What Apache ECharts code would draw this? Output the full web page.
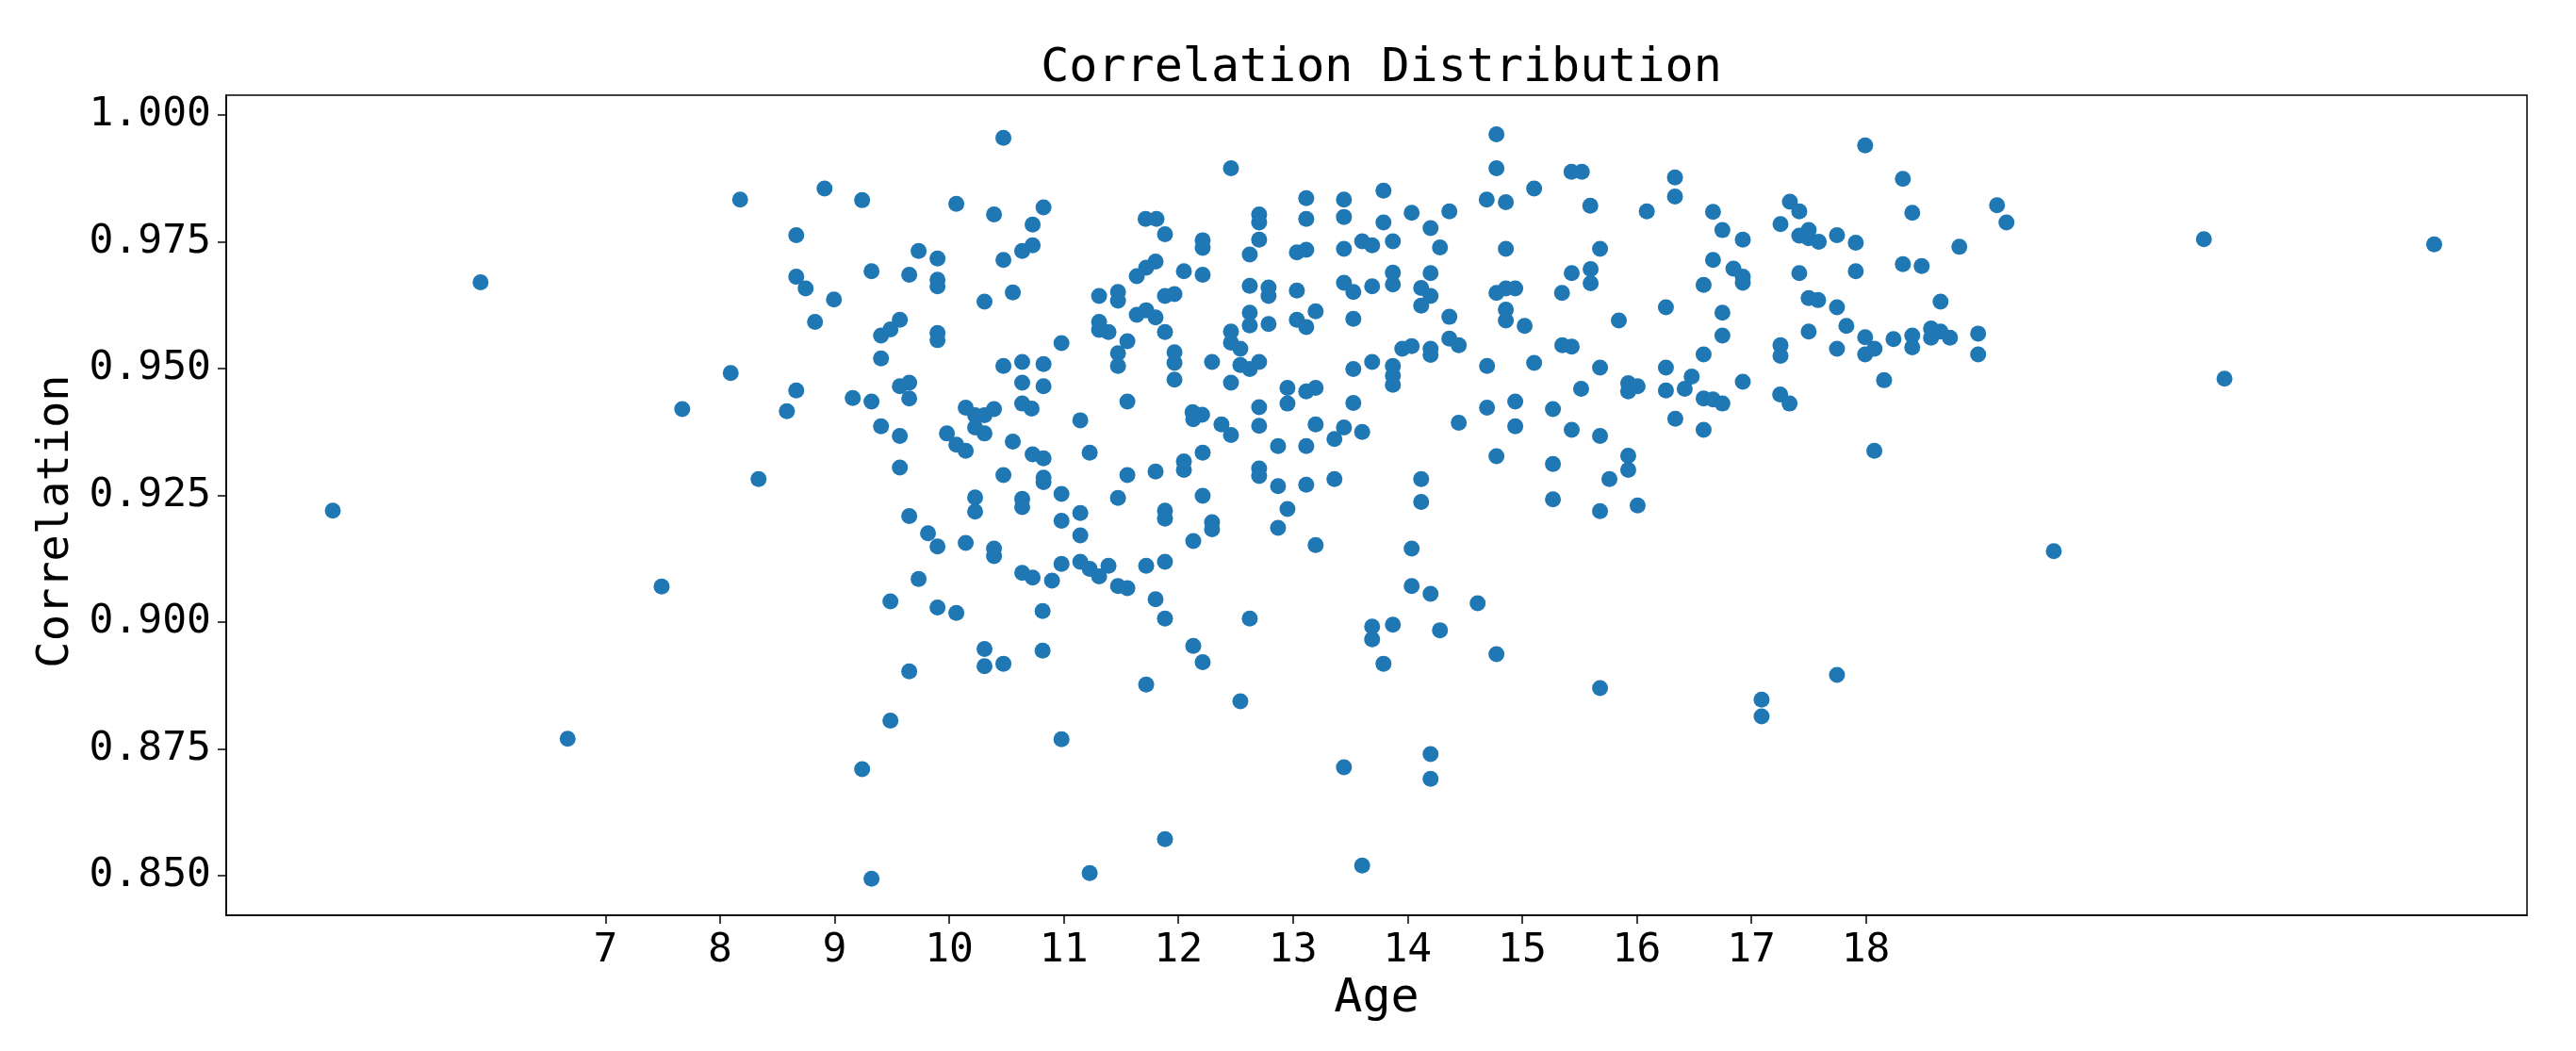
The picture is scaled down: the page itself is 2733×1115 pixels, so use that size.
<!DOCTYPE html>
<html><head><meta charset="utf-8">
<script src="https://cdn.jsdelivr.net/npm/echarts@6/dist/echarts.min.js"></script>
<style>html,body{margin:0;padding:0;background:#fff}#c{width:2733px;height:1115px}</style>
</head><body><div id="c"></div>
<script>
const chartTitle = 'Correlation Distribution';
const xName = 'Age';
const yName = 'Correlation';
const xTicks = [7, 8, 9, 10, 11, 12, 13, 14, 15, 16, 17, 18];
const yTicks = [0.85, 0.875, 0.9, 0.925, 0.95, 0.975, 1.0];

const ages = [
4.62,5.91,6.67,7.49,7.67,19.64,20.95,21.13,22.96,
10.473,8.912,8.175,9.240,10.062,10.391,10.728,8.665,9.733,9.898,10.637,10.728,10.473,9.322,8.665,8.747,9.651,9.898,9.898,8.994,10.555,10.308,8.829,9.569,9.487,9.405,9.898,9.898,9.405,10.473,10.637,8.093,
12.459,13.116,13.445,10.823,13.116,13.445,11.714,11.809,12.705,12.705,11.883,12.705,12.212,12.212,13.604,12.623,13.034,13.116,13.445,11.801,11.719,11.637,12.048,12.212,12.623,12.787,12.787,13.034,13.445,13.527,11.308,11.473,11.473,11.883,11.966,11.637,11.719,11.801,13.198,12.623,12.623,12.787,13.034,13.116,13.527,11.308,11.308,11.390,11.883,11.555,12.459,12.459,12.541,10.980,11.473,11.473,11.966,11.966,12.294,12.541,12.623,12.705,10.823,13.527,
14.776,14.776,15.431,15.521,16.334,15.105,13.790,16.334,14.691,14.858,15.595,16.088,14.036,14.365,13.790,14.201,13.691,13.872,14.283,14.858,15.680,13.872,13.872,14.201,13.691,15.433,15.598,15.598,14.119,14.201,14.119,14.776,14.858,14.940,15.348,16.255,14.858,14.858,14.365,15.022,15.844,14.365,14.447,13.954,14.036,14.201,14.201,15.351,15.433,13.691,13.872,13.872,14.694,15.105,15.680,16.255,16.480,
17.994,18.323,17.337,17.419,16.666,18.405,19.145,19.227,17.255,16.748,16.926,17.419,17.501,17.501,17.589,17.748,17.912,18.816,16.666,16.844,16.926,16.926,18.323,18.487,16.584,17.419,17.912,17.501,17.583,18.652,17.748,16.748,17.830,17.501,16.748,17.255,17.255,17.748,17.994,17.994,18.076,18.241,18.405,18.405,18.569,18.569,18.652,18.734,18.980,18.980,16.584,
9.569,9.651,9.651,10.637,8.665,8.583,9.158,9.322,10.144,10.226,10.308,10.391,10.226,10.308,10.637,10.719,9.405,9.569,9.980,10.062,10.144,10.555,10.728,9.569,8.336,10.473,10.226,10.226,10.637,10.637,9.651,9.815,9.898,10.144,10.391,10.391,10.637,10.728,9.733,9.487,9.898,10.062,
10.823,11.966,12.459,11.555,12.952,12.952,13.116,13.198,13.527,11.144,12.124,12.207,12.130,12.376,12.459,12.705,12.705,13.198,13.445,13.362,13.604,10.823,11.226,12.212,12.048,12.048,12.870,13.116,10.823,10.823,11.555,11.801,12.705,12.705,12.870,13.116,13.362,10.980,11.473,12.212,11.144,10.980,11.883,11.883,11.144,12.294,12.294,12.130,12.952,12.870,13.198,10.980,11.144,11.226,11.308,11.390,10.897,11.473,11.555,11.719,11.883,11.801,10.815,11.883,12.623,
13.872,15.515,15.926,15.926,16.008,16.255,16.419,14.694,14.940,14.940,15.269,14.447,15.433,15.680,16.337,14.776,15.269,15.926,15.926,15.762,14.119,14.119,15.269,15.680,16.008,14.036,14.036,14.201,14.612,13.691,13.691,13.872,14.283,
16.926,18.159,16.584,16.666,16.748,17.252,17.334,16.584,18.074,
10.308,10.308,10.473,9.651,9.487,9.240,9.322,
10.815,12.130,12.212,11.719,12.541,10.980,13.445,11.883,11.226,13.604,
13.790,14.776,15.680,14.201,14.201,
17.748,17.090,17.090
];

const correlations = [
0.922,0.967,0.877,0.907,0.942,0.914,0.9755,0.948,0.9745,
0.9955,0.9855,0.9833,0.9832,0.9825,0.9804,0.9784,0.9763,0.9732,0.9717,0.9732,0.9743,0.9714,0.9692,0.9681,0.9658,0.9685,0.9675,0.9662,0.9636,0.9650,0.9632,0.9592,0.9596,0.9577,0.9565,0.9570,0.9556,0.9520,0.9505,0.9513,0.9491,
0.9895,0.9836,0.9833,0.9818,0.9795,0.9799,0.9795,0.9795,0.9804,0.9788,0.9765,0.9754,0.9753,0.9738,0.9751,0.9725,0.9729,0.9734,0.9736,0.9711,0.9699,0.9682,0.9692,0.9685,0.9663,0.9660,0.9643,0.9654,0.9669,0.9651,0.9643,0.9651,0.9634,0.9643,0.9647,0.9606,0.9615,0.9601,0.9613,0.9610,0.9585,0.9588,0.9596,0.9582,0.9598,0.9592,0.9576,0.9572,0.9572,0.9554,0.9573,0.9551,0.9539,0.9550,0.9530,0.9505,0.9532,0.9511,0.9513,0.9507,0.9499,0.9513,0.9509,0.9499,
0.9962,0.9895,0.9888,0.9888,0.9877,0.9855,0.9851,0.9839,0.9833,0.9828,0.9821,0.9810,0.9807,0.9810,0.9788,0.9777,0.9743,0.9751,0.9739,0.9736,0.9736,0.9689,0.9666,0.9688,0.9662,0.9688,0.9696,0.9668,0.9659,0.9643,0.9624,0.9649,0.9658,0.9658,0.9649,0.9621,0.9616,0.9595,0.9602,0.9584,0.9595,0.9559,0.9546,0.9539,0.9544,0.9539,0.9527,0.9546,0.9543,0.9513,0.9505,0.9486,0.9505,0.9511,0.9502,0.9502,0.9484,
0.9940,0.9874,0.9829,0.9810,0.9809,0.9807,0.9822,0.9788,0.9785,0.9773,0.9754,0.9762,0.9773,0.9757,0.9750,0.9763,0.9748,0.9740,0.9714,0.9697,0.9681,0.9669,0.9706,0.9702,0.9665,0.9688,0.9692,0.9639,0.9635,0.9632,0.9621,0.9610,0.9584,0.9573,0.9565,0.9546,0.9525,0.9539,0.9562,0.9528,0.9539,0.9558,0.9565,0.9542,0.9579,0.9561,0.9573,0.9561,0.9569,0.9528,0.9528,
0.9465,0.9472,0.9441,0.9472,0.9457,0.9416,0.9442,0.9435,0.9423,0.9408,0.9408,0.9420,0.9384,0.9372,0.9431,0.9421,0.9386,0.9367,0.9372,0.9350,0.9338,0.9356,0.9331,0.9305,0.9282,0.9290,0.9246,0.9218,0.9243,0.9227,0.9209,0.9175,0.9149,0.9156,0.9145,0.9130,0.9097,0.9088,0.9085,0.9041,0.9029,0.9018,
0.9465,0.9478,0.9472,0.9435,0.9462,0.9431,0.9455,0.9462,0.9432,0.9398,0.9414,0.9409,0.9400,0.9390,0.9369,0.9424,0.9387,0.9390,0.9384,0.9361,0.9375,0.9323,0.9334,0.9334,0.9317,0.9300,0.9347,0.9347,0.9285,0.9276,0.9290,0.9297,0.9303,0.9288,0.9268,0.9271,0.9282,0.9253,0.9245,0.9249,0.9215,0.9200,0.9220,0.9204,0.9171,0.9197,0.9183,0.9160,0.9223,0.9186,0.9152,0.9115,0.9119,0.9105,0.9090,0.9111,0.9082,0.9071,0.9067,0.9111,0.9119,0.9045,0.9022,0.9007,0.9007,
0.9468,0.9460,0.9471,0.9455,0.9465,0.9457,0.9460,0.9423,0.9435,0.9386,0.9420,0.9393,0.9379,0.9367,0.9401,0.9327,0.9312,0.9328,0.9300,0.9282,0.9282,0.9237,0.9242,0.9219,0.9230,0.9145,0.9071,0.9056,0.9037,0.8991,0.8966,0.8995,0.8984,
0.9474,0.9477,0.9441,0.9439,0.9431,0.9449,0.9431,0.9379,0.9338,
0.8947,0.8913,0.8918,0.8903,0.8806,0.8710,0.8494,
0.8944,0.8953,0.8921,0.8877,0.8844,0.8769,0.8714,0.8572,0.8505,0.8520,
0.8918,0.8937,0.8870,0.8740,0.8691,
0.8896,0.8847,0.8814
];

const points = ages.map((a, i) => [a, correlations[i]]);
const FONT = 'DejaVu Sans Mono';
const GRID = {left: 240, top: 101, right: 52, bottom: 144};
const plotCenterX = GRID.left + (2733 - GRID.left - GRID.right) / 2;

const chart = echarts.init(document.getElementById('c'), null, {renderer: 'canvas'});
chart.setOption({
  animation: false,
  backgroundColor: '#ffffff',
  title: {
    text: chartTitle, left: plotCenterX, textAlign: 'center', top: 43,
    textStyle: {fontFamily: FONT, fontSize: 50, fontWeight: 'normal', color: '#000'}
  },
  grid: Object.assign({show: true, borderColor: '#000', borderWidth: 1.5, backgroundColor: 'transparent'}, GRID),
  xAxis: {
    type: 'value', min: 3.69, max: 23.77,
    name: xName, nameLocation: 'middle', nameGap: 62,
    nameTextStyle: {fontFamily: FONT, fontSize: 50, color: '#000'},
    axisLine: {show: true, lineStyle: {color: '#000', width: 1.5}},
    axisTick: {show: true, inside: false, length: 9, lineStyle: {color: '#000', width: 1.5}, customValues: xTicks},
    axisLabel: {fontFamily: FONT, fontSize: 43, color: '#000', margin: 16, customValues: xTicks, formatter: v => String(v)},
    splitLine: {show: false}
  },
  yAxis: {
    type: 'value', min: 0.8422, max: 1.0039,
    name: yName, nameLocation: 'middle', nameGap: 143, nameRotate: 90,
    nameTextStyle: {fontFamily: FONT, fontSize: 47, color: '#000', padding: [0, 34, 0, 0]},
    axisLine: {show: true, lineStyle: {color: '#000', width: 1.5}},
    axisTick: {show: true, inside: false, length: 9, lineStyle: {color: '#000', width: 1.5}, customValues: yTicks},
    axisLabel: {fontFamily: FONT, fontSize: 43, color: '#000', margin: 16, customValues: yTicks, formatter: v => v.toFixed(3)},
    splitLine: {show: false}
  },
  series: [{
    type: 'scatter', data: points, symbol: 'circle', symbolSize: 17,
    itemStyle: {color: '#1f77b4', opacity: 1}
  }]
});
</script></body></html>
